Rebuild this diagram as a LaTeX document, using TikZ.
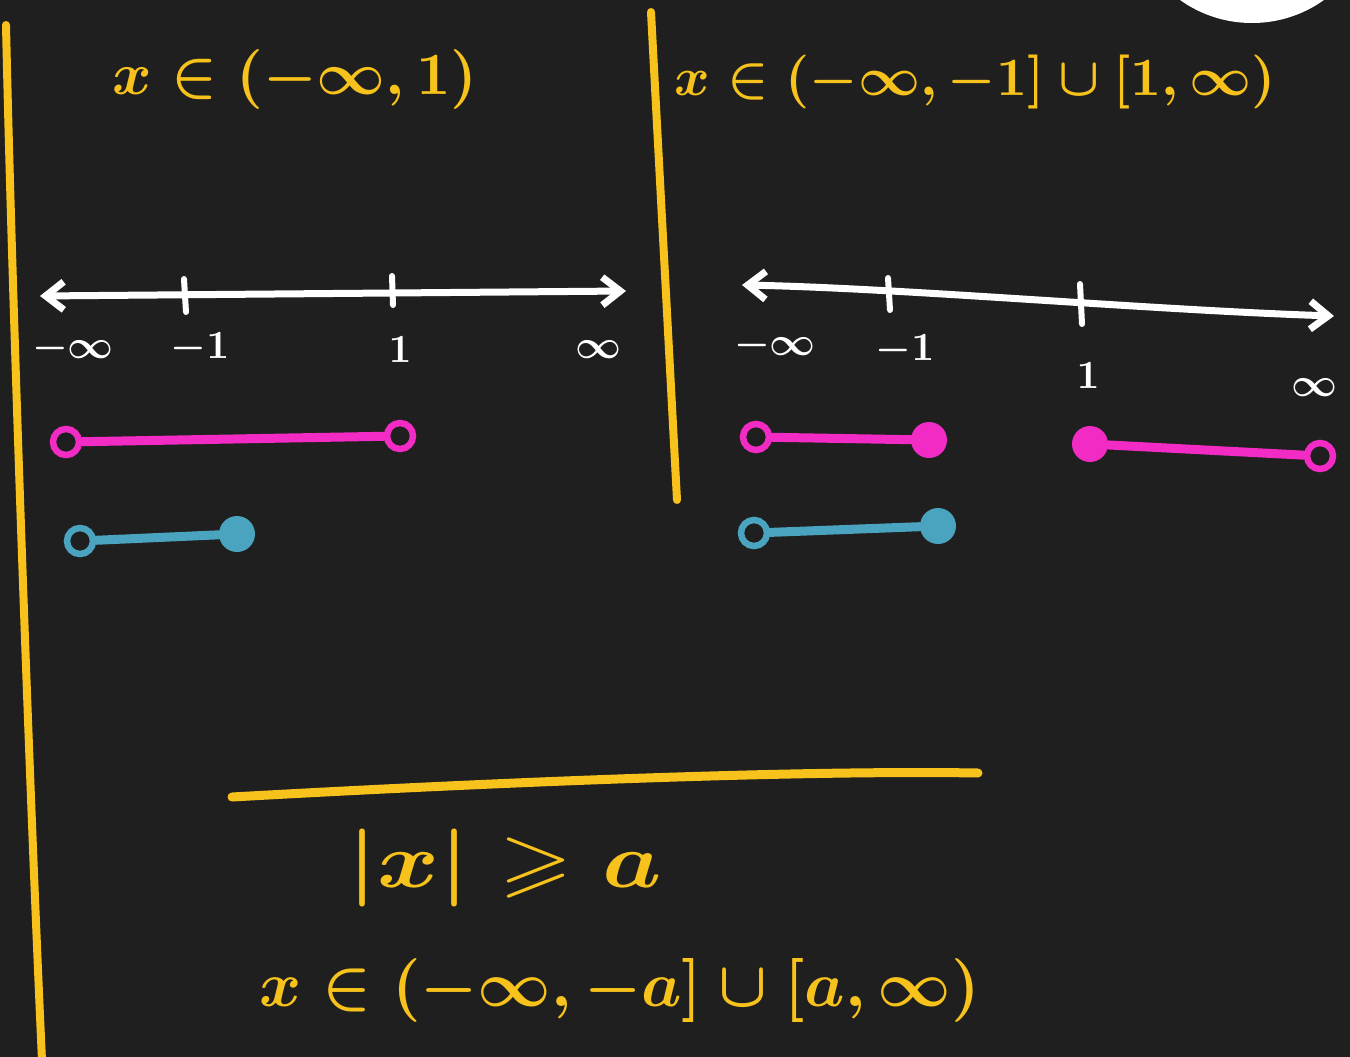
\documentclass[tikz,border=0pt]{standalone}
\usepackage{amssymb}
\usetikzlibrary{arrows.meta}
\definecolor{bg}{HTML}{1F1F1F}
\definecolor{chalkyellow}{HTML}{F7C21B}
\definecolor{chalkpink}{HTML}{F22BC5}
\definecolor{chalkblue}{HTML}{4AA3BF}
\tikzset{
  yl/.style={draw=chalkyellow, line width=6pt, line cap=round},
  wl/.style={draw=white, line width=7pt, line cap=round},
  tickline/.style={draw=white, line width=6pt, line cap=round},
  barb/.style={{Straight Barb[length=18pt,width=28pt]}-{Straight Barb[length=18pt,width=28pt]}},
  opendot/.style={circle, draw=#1, line width=6.5pt, minimum width=22pt, minimum height=26pt, inner sep=0pt},
  fulldot/.style={circle, fill=#1, minimum size=36pt, inner sep=0pt},
  seg/.style={draw=#1, line width=9pt, line cap=round},
  ytext/.style={text=chalkyellow, inner sep=0pt, font=\boldmath},
  wtext/.style={text=white, inner sep=0pt, scale=4.0, font=\boldmath},
}
\begin{document}
\begin{tikzpicture}[x=1pt,y=-1pt]
\fill[bg] (0,0) rectangle (1350,1057);
\useasboundingbox (0,0) rectangle (1350,1057);
\begin{scope}
\clip (0,0) rectangle (1350,1057);
\fill[white] (1252,-101) circle (124);
\end{scope}

% yellow dividers
\coordinate (lt) at (6,25);
\coordinate (lb) at (42,1060);
\draw[yl, line width=8pt] (lt) .. controls (12,300) and (30,800) .. (lb);
\coordinate (mt) at (651,12);
\coordinate (mb) at (677,500);
\draw[yl, line width=8pt] (mt) -- (mb);
\coordinate (hl) at (232,797);
\coordinate (hr) at (978,773);
\draw[yl, line width=9pt] (hl) .. controls (500,782) and (800,770) .. (hr);

% headings
\node[ytext, scale=6.0] (t1) at (295,80) {$x\in(-\infty,1)$};
\node[ytext, scale=5.4] (t2) at (975,82) {$x\in(-\infty,-1]\cup[1,\infty)$};
\node[ytext, xscale=9.4, yscale=7.8] (t3) at (505,868) {$|x|\geqslant a$};
\node[ytext, scale=6.4] (t4) at (620,990) {$x\in(-\infty,-a]\cup[a,\infty)$};

% number line 1
\coordinate (n1a) at (40,296);
\coordinate (n1b) at (626,291);
\draw[wl, barb] (n1a) -- (n1b);
\coordinate (k1at) at (184,279); \coordinate (k1ab) at (186,312);
\coordinate (k1bt) at (392,276); \coordinate (k1bb) at (393,305);
\draw[tickline] (k1at) -- (k1ab);
\draw[tickline] (k1bt) -- (k1bb);
\node[wtext] (l1a) at (73,348) {$-\infty$};
\node[wtext] (l1b) at (200,348) {$-1$};
\node[wtext] (l1c) at (400,350) {$1$};
\node[wtext] (l1d) at (598,350) {$\infty$};

% segments 1
\node[opendot=chalkpink] (p1a) at (66,442) {};
\node[opendot=chalkpink] (p1b) at (400,436) {};
\draw[seg=chalkpink] (p1a) -- (p1b);
\node[opendot=chalkblue] (b1a) at (80,541) {};
\node[fulldot=chalkblue] (b1b) at (237,534) {};
\draw[seg=chalkblue] (b1a) -- (b1b);

% number line 2
\coordinate (n2a) at (742,285);
\coordinate (n2b) at (1334,316);
\draw[wl, barb] (n2a) .. controls (900,288) and (1150,310) .. (n2b);
\coordinate (k2at) at (888,278); \coordinate (k2ab) at (890,310);
\coordinate (k2bt) at (1080,284); \coordinate (k2bb) at (1082,324);
\draw[tickline] (k2at) -- (k2ab);
\draw[tickline] (k2bt) -- (k2bb);
\node[wtext] (l2a) at (775,345) {$-\infty$};
\node[wtext] (l2b) at (905,350) {$-1$};
\node[wtext] (l2c) at (1088,376) {$1$};
\node[wtext] (l2d) at (1314,388) {$\infty$};

% segments 2
\node[opendot=chalkpink] (p2a) at (756,437) {};
\node[fulldot=chalkpink] (p2b) at (929,440) {};
\draw[seg=chalkpink] (p2a) -- (p2b);
\node[fulldot=chalkpink] (p2c) at (1090,444) {};
\node[opendot=chalkpink] (p2d) at (1320,456) {};
\draw[seg=chalkpink] (p2c) -- (p2d);
\node[opendot=chalkblue] (b2a) at (754,533) {};
\node[fulldot=chalkblue] (b2b) at (938,526) {};
\draw[seg=chalkblue] (b2a) -- (b2b);
\end{tikzpicture}
\end{document}
